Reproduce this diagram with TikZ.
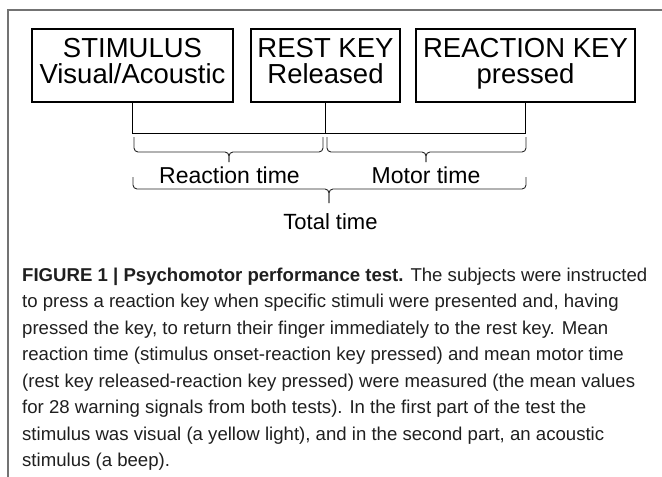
\documentclass[tikz,border=0pt]{standalone}
\usepackage{fontspec}
\setmainfont{Liberation Sans}
\begin{document}
\begin{tikzpicture}[x=1pt,y=-1pt,
  keybox/.style={draw=black,line width=1.2pt,rectangle,inner sep=0pt,minimum height=73pt},
  keytext/.style={anchor=base,inner sep=0pt,font=\fontsize{27.5}{26}\selectfont},
  timetext/.style={anchor=base,inner sep=0pt,font=\fontsize{23}{26}\selectfont},
  link/.style={draw=black,line width=1pt},
  bracepath/.style={draw=black!85,line width=0.9pt,rounded corners=4pt},
  frameline/.style={draw=black!55,line width=1.5pt},
  captext/.style={anchor=base west,inner sep=0pt,align=left,text=black!88,font=\fontsize{18.6}{26.5}\selectfont}]
\useasboundingbox (0,0) rectangle (662,477);
% outer frame
\draw[frameline] (662,10) -- (8,10) -- (8,477);
% boxes
\node[keybox,minimum width=201pt] (B1) at (132.5,65.5) {};
\node[keybox,minimum width=149pt] (B2) at (325.5,65.5) {};
\node[keybox,minimum width=219pt] (B3) at (525.5,65.5) {};
\node[keytext] (t1a) at (132.5,57) {STIMULUS};
\node[keytext] (t1b) at (132.5,83) {Visual/Acoustic};
\node[keytext] (t2a) at (325.5,57) {REST KEY};
\node[keytext] (t2b) at (325.5,83) {Released};
\node[keytext] (t3a) at (525.5,57) {REACTION KEY};
\node[keytext] (t3b) at (525.5,83) {pressed};
% connectors
\coordinate (jL) at (B1.south |- 0,133);
\coordinate (jM) at (B2.south |- 0,133);
\coordinate (jR) at (B3.south |- 0,133);
\draw[link] (B1.south) -- (jL) -- (jR) -- (B3.south);
\draw[link] (B2.south) -- (jM);
% small braces
\draw[bracepath] (134,137) -- (134,152) -- (229,152) -- (229,162);
\draw[bracepath] (323,137) -- (323,152) -- (229,152) -- (229,162);
\draw[bracepath] (327,137) -- (327,152) -- (426,152) -- (426,162);
\draw[bracepath] (526,137) -- (526,152) -- (426,152) -- (426,162);
\node[timetext] (rt) at (229.5,183) {Reaction time};
\node[timetext] (mt) at (426,183) {Motor time};
% big brace
\draw[bracepath] (133,177) -- (133,189) -- (329,189) -- (329,203);
\draw[bracepath] (526,177) -- (526,189) -- (329,189) -- (329,203);
\node[timetext,font=\fontsize{22}{26}\selectfont] (tt) at (330.5,229) {Total time};
% caption (base anchor = last line)
\node[captext] (cap) at (22,466.5) {\textbf{FIGURE 1 | Psychomotor performance test.} The subjects were instructed\\
to press a reaction key when specific stimuli were presented and, having\\
pressed the key, to return their finger immediately to the rest key. Mean\\
reaction time (stimulus onset-reaction key pressed) and mean motor time\\
(rest key released-reaction key pressed) were measured (the mean values\\
for 28 warning signals from both tests). In the first part of the test the\\
stimulus was visual (a yellow light), and in the second part, an acoustic\\
stimulus (a beep).};
\end{tikzpicture}
\end{document}
